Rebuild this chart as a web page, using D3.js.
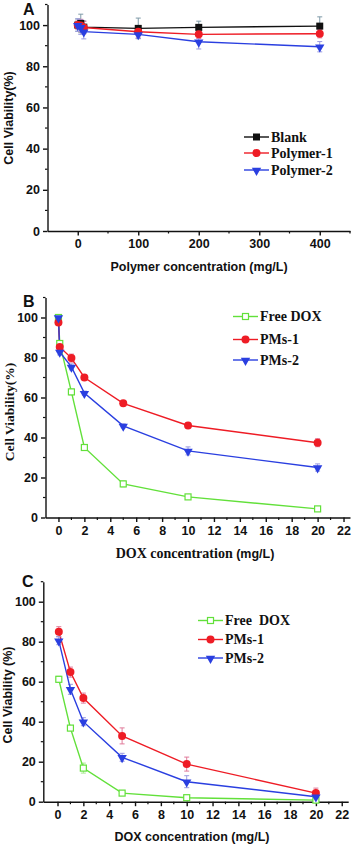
<!DOCTYPE html>
<html>
<head>
<meta charset="utf-8">
<script src="https://cdn.jsdelivr.net/npm/d3@7"></script>
<style>
  body { margin: 0; background: #fff; }
  svg { display: block; }
</style>
</head>
<body>
<script>
// panel A - polymer only
var concA = [0, 5, 10, 100, 200, 400];
var blankA = [100, 100.8, 99, 98.4, 98.9, 99.5];
var blankAErr = [3, 4.5, 3, 5, 3, 4.5];
var poly1A = [100, 99.8, 98.8, 96.8, 95.5, 95.8];
var poly1AErr = [2, 3, 3, 3, 2, 2];
var poly2A = [100, 99, 96.8, 95.5, 91.9, 89.5];
var poly2AErr = [3, 3.5, 3.5, 2, 3.5, 2.5];

// panel B
var concB = [0, 0.1, 1, 2, 5, 10, 20];
var freeB = [100, 87, 62.8, 35, 16.8, 10.3, 4.3];
var freeBErr = [1, 1.5, 1.5, 1.5, 1.5, 1, 0.8];
var pms1B = [97.5, 85.3, 79.7, 70, 57.1, 46, 37.4];
var pms1BErr = [1.5, 1.5, 2, 1.2, 1, 1.2, 2];
var pms2B = [100, 82.8, 75.3, 62.2, 45.8, 33.3, 25];
var pms2BErr = [1, 1.5, 1.5, 1, 1, 2, 1.8];

// panel C
var concC = [0.1, 1, 2, 5, 10, 20];
var freeC = [61.2, 36.8, 16.8, 4.3, 2, 0.8];
var freeCErr = [1.5, 1, 2.5, 1, 1, 0.5];
var pms1C = [85, 64.8, 51.8, 32.9, 18.8, 4.3];
var pms1CErr = [2.5, 2.5, 2.5, 4, 3.5, 2.5];
var pms2C = [80.5, 56.2, 40, 22.2, 10, 2.5];
var pms2CErr = [2, 2.5, 2, 2, 3, 1.5];

var yTicks = [0, 20, 40, 60, 80, 100];
var xTicksA = [0, 100, 200, 300, 400];
var xTicksDox = [0, 2, 4, 6, 8, 10, 12, 14, 16, 18, 20, 22];

var RED = "#ee1c25", BLUE = "#2a3fe0", GREEN = "#62e03a", BLACK = "#111";
var SANS = "Liberation Sans, Arial, sans-serif";
var SERIF = "Liberation Serif, Times New Roman, serif";

var svg = d3.select("body").append("svg")
  .attr("width", 354)
  .attr("height", 846);

function zip(xs, ys, es) {
  return xs.map(function(x, i) { return {x: x, y: ys[i], e: es[i]}; });
}

function marker(g, shape, color, x, y) {
  if (shape == "square") {
    g.append("rect").attr("x", x - 3.5).attr("y", y - 3.5)
      .attr("width", 7).attr("height", 7).attr("fill", color);
  } else if (shape == "hollow") {
    g.append("rect").attr("x", x - 3).attr("y", y - 3)
      .attr("width", 6).attr("height", 6)
      .attr("fill", "#fff").attr("stroke", color).attr("stroke-width", 1.2);
  } else if (shape == "circle") {
    g.append("circle").attr("cx", x).attr("cy", y).attr("r", 4).attr("fill", color);
  } else {
    g.append("path")
      .attr("d", d3.symbol().type(d3.symbolTriangle).size(38)())
      .attr("transform", "translate(" + x + "," + (y + 0.5) + ") rotate(180)")
      .attr("fill", color);
  }
}

function panel(p) {
  var g = svg.append("g");
  var x = p.x, y = p.y;
  var x0 = x.range()[0], y0 = y.range()[0];

  // minor ticks
  p.yMinor.forEach(function(v) {
    g.append("line").attr("x1", x0 - 2.5).attr("x2", x0)
      .attr("y1", y(v)).attr("y2", y(v)).attr("stroke", BLACK).attr("stroke-width", 1.2);
  });
  p.xMinor.forEach(function(v) {
    g.append("line").attr("x1", x(v)).attr("x2", x(v))
      .attr("y1", y0).attr("y2", y0 + 2.5).attr("stroke", BLACK).attr("stroke-width", 1.2);
  });

  var yAx = g.append("g").attr("transform", "translate(" + x0 + ",0)")
    .call(d3.axisLeft(y).tickValues(yTicks).tickSize(4.5).tickPadding(3).tickSizeOuter(0));
  var xAx = g.append("g").attr("transform", "translate(0," + y0 + ")")
    .call(d3.axisBottom(x).tickValues(p.xTicks).tickSize(4.5).tickPadding(4).tickSizeOuter(0));
  [yAx, xAx].forEach(function(a) {
    a.selectAll("path, line").attr("stroke", BLACK).attr("stroke-width", 1.4);
    a.selectAll("text").attr("font-family", SANS).attr("font-weight", "bold")
      .attr("font-size", 12.5).attr("fill", BLACK);
  });

  var line = d3.line().x(function(d) { return x(d.x); }).y(function(d) { return y(d.y); });

  p.series.forEach(function(s) {
    var pts = zip(p.conc, s.values, s.err);
    var eg = g.append("g").attr("stroke", s.errColor).attr("stroke-width", 1);
    pts.forEach(function(d) {
      eg.append("line").attr("x1", x(d.x)).attr("x2", x(d.x))
        .attr("y1", y(d.y - d.e)).attr("y2", y(d.y + d.e));
      [d.y - d.e, d.y + d.e].forEach(function(v) {
        eg.append("line").attr("x1", x(d.x) - 2.5).attr("x2", x(d.x) + 2.5)
          .attr("y1", y(v)).attr("y2", y(v));
      });
    });
    g.append("path").datum(pts).attr("d", line)
      .attr("fill", "none").attr("stroke", s.color).attr("stroke-width", 1.4);
  });
  p.series.forEach(function(s) {
    zip(p.conc, s.values, s.err).forEach(function(d) {
      marker(g, s.shape, s.color, x(d.x), y(d.y));
    });
  });

  // legend
  p.series.forEach(function(s, i) {
    var ly = p.legend.y[i];
    g.append("line").attr("x1", p.legend.x).attr("x2", p.legend.x + 25)
      .attr("y1", ly).attr("y2", ly).attr("stroke", s.color).attr("stroke-width", 1.4);
    marker(g, s.shape, s.color, p.legend.x + 12.5, ly);
    g.append("text").attr("x", p.legend.x + 27).attr("y", ly)
      .attr("dy", "0.35em").attr("font-family", SERIF).attr("font-weight", "bold")
      .attr("font-size", 14).attr("fill", BLACK)
      .attr("xml:space", "preserve").text(s.name);
  });

  // panel letter
  g.append("text").attr("x", p.letter[0]).attr("y", p.letter[1])
    .attr("font-family", SANS).attr("font-weight", "bold").attr("font-size", 16)
    .attr("fill", BLACK).text(p.label);

  // y title
  g.append("text")
    .attr("transform", "translate(" + p.yTitle.x + "," + p.yTitle.y + ") rotate(-90)")
    .attr("text-anchor", "middle")
    .attr("font-family", p.yTitle.serif ? SERIF : SANS)
    .attr("font-weight", "bold").attr("font-size", p.yTitle.serif ? 13.5 : 12.5)
    .attr("fill", BLACK).text(p.yTitle.text);

  // x title
  var xt = g.append("text").attr("x", p.xTitle.x).attr("y", p.xTitle.y)
    .attr("text-anchor", "middle").attr("font-weight", "bold").attr("fill", BLACK);
  p.xTitle.parts.forEach(function(part) {
    xt.append("tspan").attr("font-family", part[1] ? SERIF : SANS)
      .attr("font-size", part[1] ? 14 : 12.5).text(part[0]);
  });
}

panel({
  label: "A", letter: [23, 15],
  x: d3.scaleLinear().domain([-50, 450]).range([47.5, 350]),
  y: d3.scaleLinear().domain([0, 110]).range([231, 4.5]),
  xTicks: xTicksA,
  xMinor: [50, 150, 250, 350, 450],
  yMinor: [10, 30, 50, 70, 90, 110],
  conc: concA,
  series: [
    {name: "Blank", values: blankA, err: blankAErr, color: BLACK, errColor: "#7f9aa8", shape: "square"},
    {name: "Polymer-1", values: poly1A, err: poly1AErr, color: RED, errColor: "#e07a9a", shape: "circle"},
    {name: "Polymer-2", values: poly2A, err: poly2AErr, color: BLUE, errColor: "#9a9ae0", shape: "tri"}
  ],
  legend: {x: 244, y: [137, 153, 170]},
  yTitle: {x: 13, y: 118, text: "Cell Viability(%)", serif: false},
  xTitle: {x: 199, y: 271, parts: [["Polymer concentration (mg/L)", false]]}
});

panel({
  label: "B", letter: [23, 307],
  x: d3.scaleLinear().domain([-1, 22.5]).range([45.5, 350]),
  y: d3.scaleLinear().domain([0, 110]).range([517.5, 297.5]),
  xTicks: xTicksDox,
  xMinor: [1, 3, 5, 7, 9, 11, 13, 15, 17, 19, 21],
  yMinor: [10, 30, 50, 70, 90, 110],
  conc: concB,
  series: [
    {name: "Free DOX", values: freeB, err: freeBErr, color: GREEN, errColor: "#a8e890", shape: "hollow"},
    {name: "PMs-1", values: pms1B, err: pms1BErr, color: RED, errColor: "#e07a9a", shape: "circle"},
    {name: "PMs-2", values: pms2B, err: pms2BErr, color: BLUE, errColor: "#9a9ae0", shape: "tri"}
  ],
  legend: {x: 233, y: [316.5, 339.5, 360]},
  yTitle: {x: 13.5, y: 412, text: "Cell Viability(%)", serif: true},
  xTitle: {x: 195, y: 558, parts: [["DOX concentration ", true], ["(mg/L)", false]]}
});

panel({
  label: "C", letter: [22, 587],
  x: d3.scaleLinear().domain([-1.1, 22.5]).range([43.3, 348.2]),
  y: d3.scaleLinear().domain([0, 110]).range([801.7, 581.7]),
  xTicks: xTicksDox,
  xMinor: [1, 3, 5, 7, 9, 11, 13, 15, 17, 19, 21],
  yMinor: [10, 30, 50, 70, 90, 110],
  conc: concC,
  series: [
    {name: "Free  DOX", values: freeC, err: freeCErr, color: GREEN, errColor: "#a8e890", shape: "hollow"},
    {name: "PMs-1", values: pms1C, err: pms1CErr, color: RED, errColor: "#e07a9a", shape: "circle"},
    {name: "PMs-2", values: pms2C, err: pms2CErr, color: BLUE, errColor: "#9a9ae0", shape: "tri"}
  ],
  legend: {x: 198, y: [620.5, 639.5, 658]},
  yTitle: {x: 12, y: 695, text: "Cell Viability (%)", serif: false},
  xTitle: {x: 192, y: 841, parts: [["DOX concentration (mg/L)", false]]}
});
</script>
</body>
</html>
